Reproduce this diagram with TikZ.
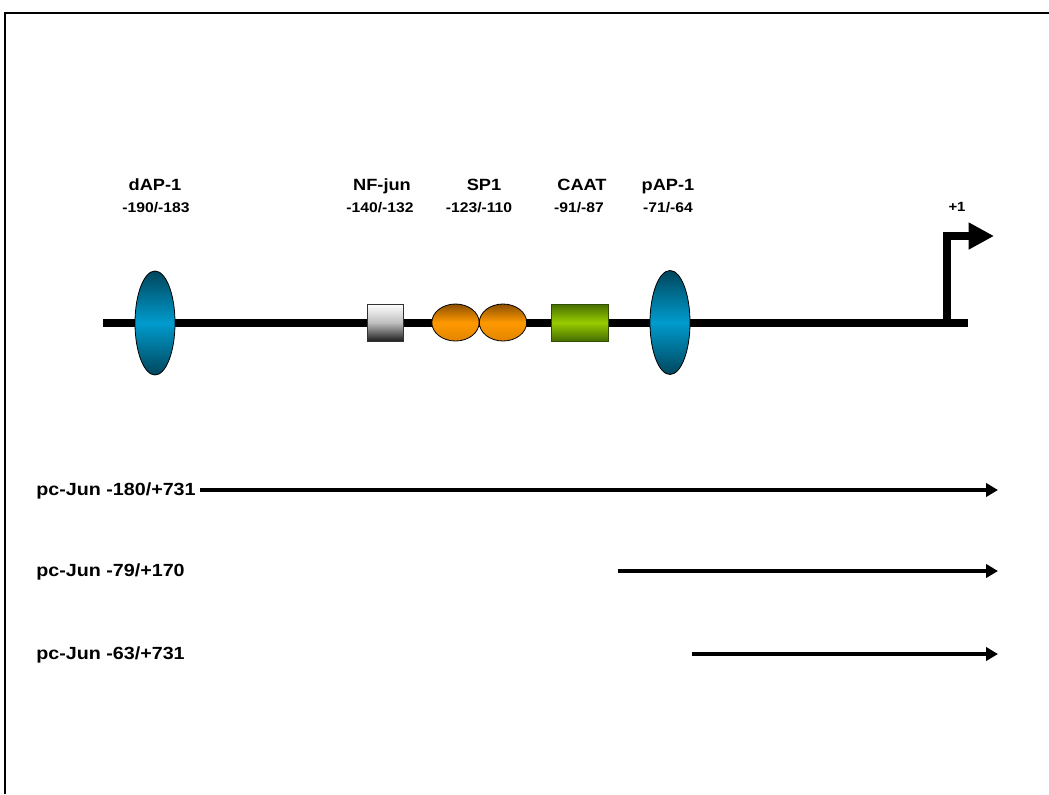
\documentclass[tikz,border=0pt]{standalone}
\usepackage{fontspec}
\newfontfamily\lab{Liberation Sans}[FakeStretch=1.12]
\usetikzlibrary{shapes.geometric,arrows.meta}
\definecolor{tealdark}{RGB}{0,70,92}
\definecolor{tealbright}{RGB}{0,155,205}
\definecolor{ordark}{RGB}{140,80,0}
\definecolor{ormid}{RGB}{255,153,0}
\definecolor{orbot}{RGB}{225,132,0}
\definecolor{grdark}{RGB}{70,110,0}
\definecolor{grmid}{RGB}{153,204,0}
\definecolor{nfdark}{RGB}{30,30,30}
\tikzset{
  site/.style={ellipse,draw=black,line width=0.6pt,inner sep=0pt,
    minimum width=30pt,minimum height=78pt,
    top color=tealdark,bottom color=tealdark,middle color=tealbright},
  sp/.style={ellipse,draw=black,line width=0.6pt,inner sep=0pt,
    minimum width=35.5pt,minimum height=27.75pt,
    top color=ordark,bottom color=orbot,middle color=ormid},
  nfbox/.style={rectangle,draw=black!80,line width=0.6pt,inner sep=0pt,
    minimum width=27pt,minimum height=27.75pt,
    top color=white,bottom color=nfdark,middle color=black!25},
  caatbox/.style={rectangle,draw=grdark!70!black,line width=0.6pt,inner sep=0pt,
    minimum width=42.75pt,minimum height=27.75pt,
    top color=grdark,bottom color=grdark,middle color=grmid},
  namelbl/.style={anchor=base,inner sep=0pt,font=\lab\bfseries\fontsize{12.2pt}{14pt}\selectfont},
  poslbl/.style={anchor=base,inner sep=0pt,font=\lab\bfseries\fontsize{10.5pt}{12pt}\selectfont},
  construct/.style={anchor=base west,inner sep=0pt,font=\lab\bfseries\fontsize{13.2pt}{15pt}\selectfont},
  dna/.style={line width=6pt},
  frag/.style={line width=3pt,-{Triangle[length=9pt,width=10pt]}},
}
\begin{document}
\begin{tikzpicture}[x=0.75pt,y=-0.75pt]
\useasboundingbox (0,0) rectangle (1049,794);
% frame
\draw[line width=1.5pt] (4.5,794) -- (4.5,12.5) -- (1049,12.5);
% DNA line
\coordinate (dnaL) at (103,323);
\coordinate (dnaR) at (968,323);
\coordinate (tss) at (947,323);
\coordinate (tssTop) at (947,236);
\coordinate (tssTip) at (994,236);
\draw[dna] (dnaL) -- (dnaR);
\draw[line width=6pt,-{Triangle[length=19pt,width=19pt]}] (tss) -- (tssTop) -- (tssTip);
% elements
\node[site] (dap) at (155,323) {};
\node[nfbox] (nfjun) at (385,322.5) {};
\node[sp] (sp1a) at (455.5,322.5) {};
\node[sp] (sp1b) at (503,322.5) {};
\node[caatbox] (caat) at (579.5,322.5) {};
\node[site] (pap) at (670,322.5) {};
% labels
\node[namelbl] (ldap) at (155,190) {dAP-1};
\node[poslbl] (pdap) at (156,212.5) {-190/-183};
\node[namelbl] (lnf) at (382,190) {NF-jun};
\node[poslbl] (pnf) at (380,212.5) {-140/-132};
\node[namelbl] (lsp) at (484,190) {SP1};
\node[poslbl] (psp) at (479,212.5) {-123/-110};
\node[namelbl] (lcaat) at (582,190) {CAAT};
\node[poslbl] (pcaat) at (579,212.5) {-91/-87};
\node[namelbl] (lpap) at (668,190) {pAP-1};
\node[poslbl] (ppap) at (668,212.5) {-71/-64};
\node[poslbl,font=\lab\bfseries\fontsize{10pt}{12pt}\selectfont] (plus) at (957,211.5) {+1};
% constructs
\node[construct] (c1) at (36,495.5) {pc-Jun -180/+731};
\node[construct] (c2) at (36,576.5) {pc-Jun -79/+170};
\node[construct] (c3) at (36,659.5) {pc-Jun -63/+731};
\coordinate (e1) at (998,490);
\coordinate (s2) at (618,571);
\coordinate (e2) at (998,571);
\coordinate (s3) at (692,654);
\coordinate (e3) at (998,654);
\draw[frag] (c1.east |- e1) ++(4,0) -- (e1);
\draw[frag] (s2) -- (e2);
\draw[frag] (s3) -- (e3);
\end{tikzpicture}
\end{document}
